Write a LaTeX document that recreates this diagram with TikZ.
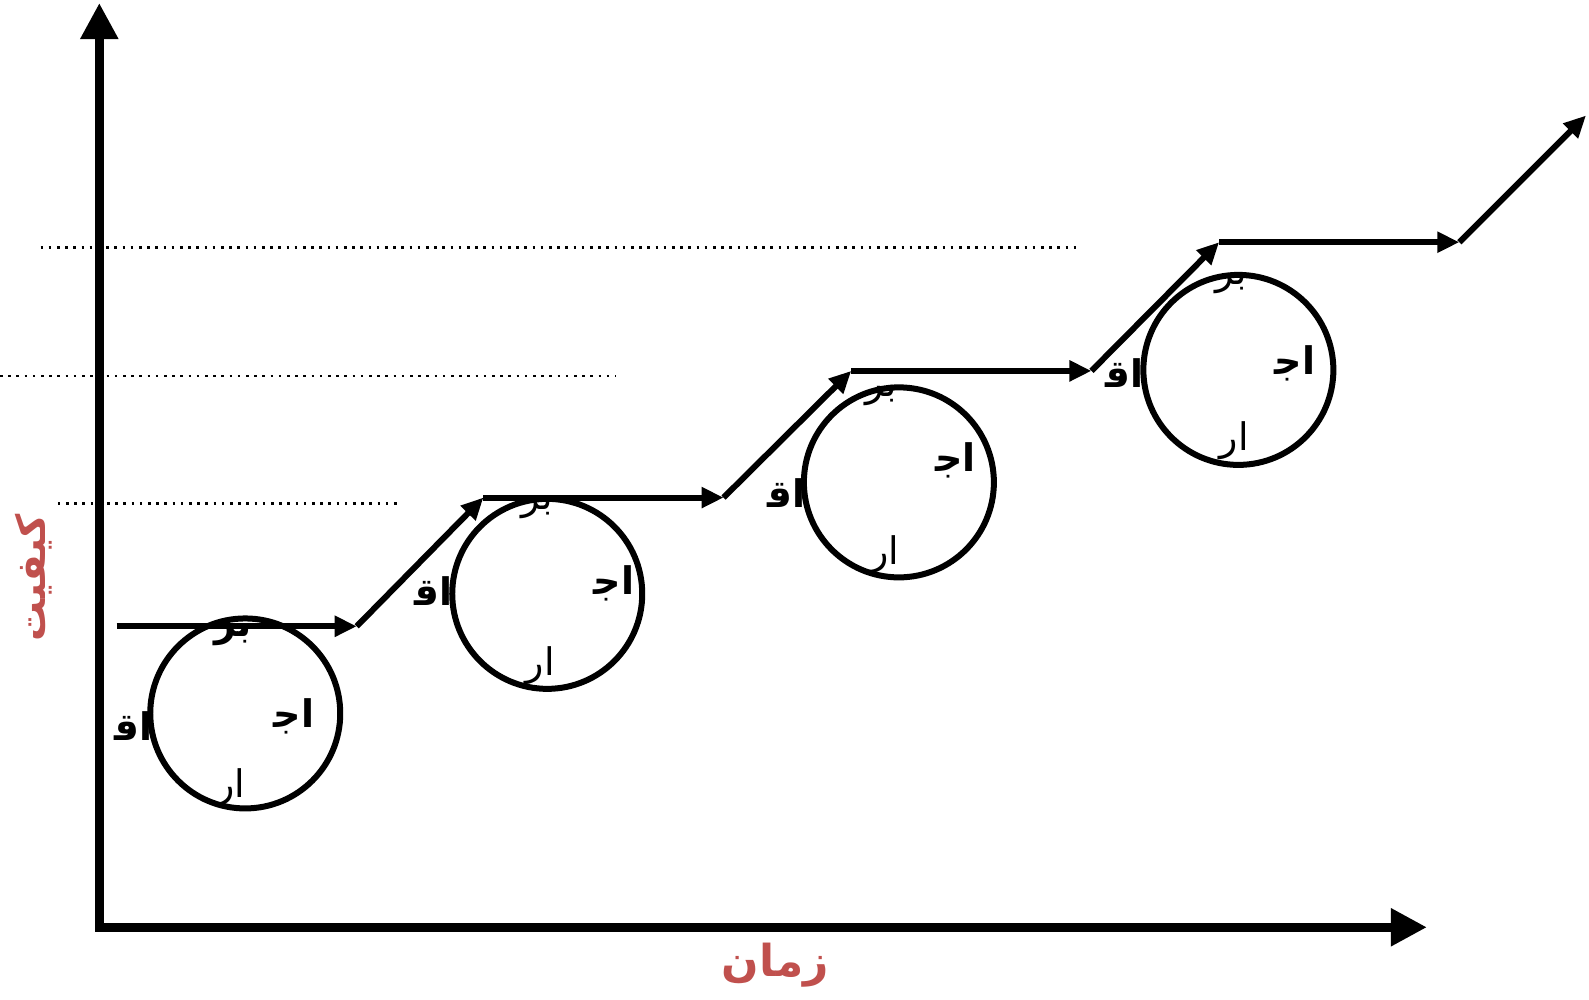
\documentclass[tikz,border=0pt]{standalone}
\usepackage{fontspec}
\usetikzlibrary{arrows.meta}
\newfontfamily\arabicfont[Script=Arabic]{DejaVu Sans}
\TeXXeTstate=1
\definecolor{axred}{RGB}{192,80,77}
\newcommand{\zwj}{\char"200D\relax}
\tikzset{
  axis/.style={line width=8.5pt,-{Triangle[length=36pt,width=36pt]}},
  flow/.style={line width=6pt,-{Triangle[length=22pt,width=20pt]}},
  guide/.style={line width=2.6pt,dash pattern=on 2.6pt off 5.6pt},
  cyc/.style={circle,draw,line width=6pt,minimum size=190pt,inner sep=0pt},
  lbl/.style={font=\arabicfont\fontsize{38}{40}\selectfont,inner sep=0pt},
  lblb/.style={font=\arabicfont\bfseries\fontsize{38}{40}\selectfont,inner sep=0pt},
  title/.style={text=axred,inner sep=0pt}
}
\begin{document}
\begin{tikzpicture}[x=1.0134pt,y=-1.0134pt]
\useasboundingbox (0,0) rectangle (1568,986);
% guide lines
\coordinate (g1a) at (40,244); \coordinate (g1b) at (1063,244);
\coordinate (g2a) at (0,371); \coordinate (g2b) at (607,371);
\coordinate (g3a) at (57,497); \coordinate (g3b) at (396,497);
\draw[guide] (g1a) -- (g1b);
\draw[guide] (g2a) -- (g2b);
\draw[guide] (g3a) -- (g3b);
% axes
\coordinate (o) at (98,915);
\coordinate (ytop) at (98,3);
\coordinate (xend) at (1408,915);
\draw[axis] ([yshift=-4pt]o) -- (ytop);
\draw[axis] ([xshift=-4pt]o) -- (xend);
% labels (drawn before circles)
\node[lblb] at (230,627) {\beginR بر\endR};
\node[lblb] at (290,707) {\beginR اج\zwj\endR};
\node[lbl]  at (228,777) {\beginR ار\endR};
\node[lblb] at (132,716) {\beginR اق\zwj\endR};
\node[lbl]  at (530,502) {\beginR بر\endR};
\node[lblb] at (606,576) {\beginR اج\zwj\endR};
\node[lbl]  at (533,657) {\beginR ار\endR};
\node[lblb] at (428,583) {\beginR اق\zwj\endR};
\node[lbl]  at (870,390) {\beginR بر\endR};
\node[lblb] at (943,454) {\beginR اج\zwj\endR};
\node[lbl]  at (873,547) {\beginR ار\endR};
\node[lblb] at (776,487) {\beginR اق\zwj\endR};
\node[lbl]  at (1215,280) {\beginR بر\endR};
\node[lblb] at (1278,359) {\beginR اج\zwj\endR};
\node[lbl]  at (1218,435) {\beginR ار\endR};
\node[lblb] at (1110,368) {\beginR اق\zwj\endR};
% circles
\node[cyc] (c1) at (242,704) {};
\node[cyc] (c2) at (540,586) {};
\node[cyc] (c3) at (887,476) {};
\node[cyc] (c4) at (1222,365) {};
% staircase
\coordinate (s0) at (115,618);
\coordinate (s1) at (352,618);
\coordinate (s2) at (477,491);
\coordinate (s3) at (714,491);
\coordinate (s4) at (840,366);
\coordinate (s5) at (1077,366);
\coordinate (s6) at (1203,239);
\coordinate (s7) at (1440,239);
\coordinate (s8) at (1565,114);
\draw[flow] (s0) -- (s1);
\draw[flow] (s1) -- (s2);
\draw[flow] (s2) -- (s3);
\draw[flow] (s3) -- (s4);
\draw[flow] (s4) -- (s5);
\draw[flow] (s5) -- (s6);
\draw[flow] (s6) -- (s7);
\draw[flow] (s7) -- (s8);
% axis titles
\node[title,font=\arabicfont\bfseries\fontsize{44}{46}\selectfont] (xl) at (765,952) {\beginR زمان\endR};
\node[title,font=\arabicfont\bfseries\fontsize{40}{42}\selectfont,rotate=90] (yl) at (33,570) {\beginR کیفیت\endR};
\end{tikzpicture}
\end{document}
